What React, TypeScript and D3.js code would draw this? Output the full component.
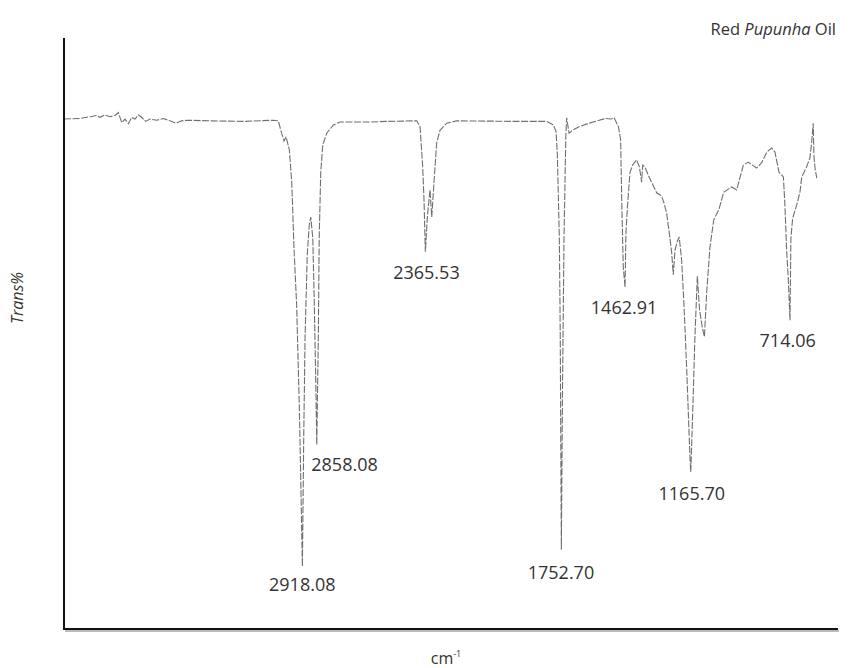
import React from "react";
import * as d3 from "d3";

// Wavenumbers (cm-1) and transmittance (%)
const wavenumbers = [
  4000, 3928, 3882, 3852, 3837, 3815, 3792, 3769, 3754, 3739, 3724, 3709, 3694, 3679, 3664, 3649,
  3631, 3611, 3581, 3551, 3521, 3494, 3468, 3445, 3340, 3189, 3054, 3031, 3016, 3005, 2996, 2981,
  2970, 2960, 2948, 2936, 2930, 2922, 2916, 2910, 2900, 2891, 2884, 2875, 2868, 2861, 2857, 2850,
  2846, 2839, 2830, 2812, 2782, 2752, 2616, 2541, 2405, 2390, 2378, 2372, 2366, 2357, 2345, 2337,
  2327, 2315, 2300, 2269, 2224, 1938, 1817, 1787, 1775, 1769, 1760, 1756, 1751, 1746, 1739, 1731,
  1727, 1716, 1701, 1671, 1626, 1580, 1550, 1527, 1512, 1493, 1483, 1478, 1471, 1463, 1459, 1453,
  1441, 1429, 1411, 1398, 1388, 1383, 1373, 1358, 1320, 1298, 1287, 1275, 1263, 1252, 1245, 1237,
  1227, 1218, 1207, 1196, 1184, 1169, 1165.7, 1156, 1147, 1136, 1126, 1114, 1104, 1094, 1079, 1062,
  1039, 1017, 981, 958, 928, 906, 868, 845, 822, 800, 785, 767, 747, 740, 732, 725,
  717, 713, 705, 687, 672, 664, 642, 627, 619, 612, 609, 604, 596,
];
const transmittance = [
  86.6, 86.7, 87.0, 87.2, 86.9, 87.3, 87.0, 87.2, 87.7, 86.0, 86.6, 85.8, 86.9, 86.6, 87.3, 86.9,
  86.2, 86.6, 86.4, 86.7, 86.3, 85.9, 86.3, 86.4, 86.3, 86.2, 86.4, 86.3, 84.2, 82.9, 83.6, 81.4,
  75.8, 64.7, 55.1, 38.1, 26.8, 10.8, 32.5, 49.5, 63.6, 68.6, 70.0, 66.4, 55.1, 41.0, 31.4, 49.5,
  66.4, 77.6, 82.2, 84.2, 85.6, 86.1, 86.1, 86.2, 86.3, 85.3, 78.5, 72.9, 64.1, 70.0, 74.6, 70.0,
  75.8, 82.5, 84.7, 85.9, 86.3, 86.2, 86.2, 85.6, 84.5, 80.5, 66.4, 50.0, 13.6, 40.0, 66.4, 83.4,
  86.8, 84.2, 84.7, 85.3, 85.9, 86.4, 86.7, 86.6, 86.8, 85.3, 83.1, 72.9, 61.5, 58.1, 67.3, 71.2,
  77.5, 78.8, 79.7, 78.5, 75.9, 78.8, 78.5, 77.1, 74.1, 73.6, 72.4, 70.7, 67.3, 63.9, 60.2, 64.4,
  65.8, 66.6, 62.7, 54.7, 44.1, 28.8, 26.8, 38.1, 49.7, 60.0, 54.2, 51.4, 49.7, 57.1, 64.9, 69.5,
  71.2, 74.2, 75.1, 74.6, 78.8, 79.3, 78.3, 79.2, 81.0, 81.7, 81.0, 77.6, 76.8, 72.0, 64.1, 59.7,
  52.5, 66.4, 69.8, 72.0, 74.2, 76.8, 78.5, 80.0, 82.7, 85.9, 80.5, 78.3, 76.6,
];

// Peak annotations
const peakLabels = ["2918.08", "2858.08", "2365.53", "1752.70", "1462.91", "1165.70", "714.06"];
const peakWavenumbers = [2918.08, 2858.08, 2365.53, 1752.7, 1462.91, 1165.7, 714.06];
const peakLabelValues = [6.6, 27.0, 59.5, 8.6, 53.5, 22.0, 48.0];

const xDomain = [4000, 500];
const yDomain = [0, 100];

export default function App() {
  const width = 849;
  const height = 668;
  const left = 64;
  const right = 838;
  const top = 38;
  const bottom = 629;

  const x = d3.scaleLinear().domain(xDomain).range([left, right]);
  const y = d3.scaleLinear().domain(yDomain).range([630, 40]);

  // horizontal nudges of the peak labels (layout only)
  const labelDx = [-1, 28, 1, 0, -1, 1, -3];

  const pts: [number, number][] = wavenumbers.map((w, i) => [w, transmittance[i]]);
  const line = d3
    .line<[number, number]>()
    .x((d) => x(d[0]))
    .y((d) => y(d[1]))
    .curve(d3.curveLinear);

  const font = "'Open Sans', 'Noto Sans', sans-serif";
  const textColor = "#333";

  return (
    <svg
      width={width}
      height={height}
      style={{ position: "fixed", left: 0, top: 0, display: "block", background: "#fff" }}
    >
      <path
        d={line(pts) || ""}
        fill="none"
        stroke="#6f6f6f"
        strokeWidth={1.1}
        strokeDasharray="7 1.6"
      />
      {/* axes */}
      <line x1={left + 1} y1={bottom + 2} x2={right + 1} y2={bottom + 2} stroke="#bbb" strokeWidth={2} />
      <line x1={left} y1={top} x2={left} y2={bottom} stroke="#111" strokeWidth={2} />
      <line x1={left - 1} y1={bottom} x2={right} y2={bottom} stroke="#111" strokeWidth={2} />

      {peakLabels.map((t, i) => (
        <text
          key={t}
          x={x(peakWavenumbers[i]) + labelDx[i]}
          y={y(peakLabelValues[i])}
          textAnchor="middle"
          fontFamily={font}
          fontSize={18}
          fill={textColor}
        >
          {t}
        </text>
      ))}

      <text x={836} y={35} textAnchor="end" fontFamily={font} fontSize={16.5} fill={textColor}>
        Red <tspan fontStyle="italic">Pupunha</tspan> Oil
      </text>

      <text
        transform="translate(23,298) rotate(-90)"
        textAnchor="middle"
        fontFamily={font}
        fontSize={16}
        fontStyle="italic"
        fill={textColor}
      >
        Trans%
      </text>

      <text x={446} y={664} textAnchor="middle" fontFamily={font} fontSize={16} fill={textColor}>
        cm
        <tspan dy={-7} fontSize={9}>
          -1
        </tspan>
      </text>
    </svg>
  );
}
